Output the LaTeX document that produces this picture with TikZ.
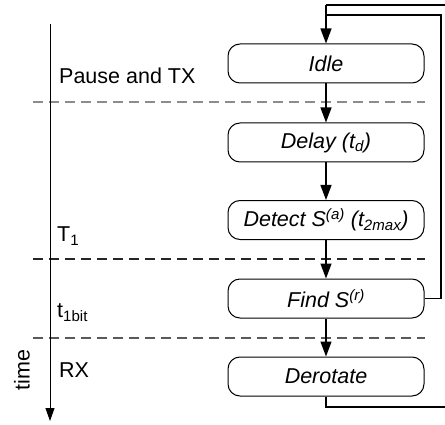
\documentclass[tikz,border=0pt]{standalone}
\usepackage{fontspec}
\setmainfont{Liberation Sans}
\usetikzlibrary{arrows.meta, positioning}

\begin{document}
\begin{tikzpicture}[
  x=1pt, y=1pt,
  font=\fontsize{21.5}{26}\selectfont,
  stagebox/.style={rectangle, rounded corners=12pt, draw=black, line width=1pt,
                   minimum width=196pt, minimum height=39pt, inner sep=0pt,
                   font=\fontsize{21.5}{26}\selectfont\itshape},
  flow/.style={-{Triangle[length=15pt, width=11pt]}, line width=1.3pt},
  loopline/.style={line width=1.3pt},
  sep/.style={dash pattern=on 10pt off 6pt, line width=1.2pt},
  phase/.style={anchor=west, inner sep=0pt}
]
  \useasboundingbox (0,0) rectangle (445,424);

  % phase separators
  \draw[sep, black!45] (33,322) -- (425,322);
  \draw[sep, black!85] (33,165) -- (425,165);
  \draw[sep, black!65] (33,86) -- (425,86);

  % time axis
  \coordinate (tstart) at (50,400);
  \coordinate (tend) at (50,3);
  \draw[-{Triangle[length=13pt, width=9pt]}, line width=1pt] (tstart) -- (tend);
  \node[rotate=90, inner sep=0pt] (timelbl) at (22,54) {time};

  \node[phase] (ptx) at (59,348) {Pause and TX};
  \node[phase] (pt1) at (57,188) {T\textsubscript{1}};
  \node[phase] (pbit) at (57,111) {t\textsubscript{1bit}};
  \node[phase] (prx) at (59,54) {RX};

  % stages
  \node[stagebox] (idle) at (326,360.5) {Idle};
  \node[stagebox] (delay) at (326,281.5) {Delay (t\textsubscript{d})};
  \node[stagebox] (detect) at (326,204) {Detect S\textsuperscript{(a)} (t\textsubscript{2max})};
  \node[stagebox] (find) at (326,125.5) {Find S\textsuperscript{(r)}};
  \node[stagebox] (derotate) at (326,47.5) {Derotate};

  \draw[flow] (idle) -- (delay);
  \draw[flow] (delay) -- (detect);
  \draw[flow] (detect) -- (find);
  \draw[flow] (find) -- (derotate);

  % back to idle
  \coordinate (innertop) at (326,409);
  \coordinate (outertop) at (326,419);
  \draw[loopline] (find.east) -- (441,125.5) -- (441,409) -- (innertop);
  \draw[loopline] (derotate.south) -- (326,17) -- (448,17) -- (448,419) -- (outertop);
  \draw[flow] (outertop) -- (idle.north);
\end{tikzpicture}
\end{document}
